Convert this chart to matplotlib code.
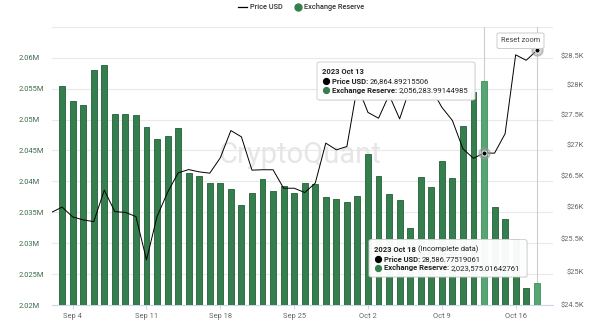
import matplotlib
matplotlib.use("Agg")
import matplotlib.pyplot as plt
import matplotlib.dates as mdates
import numpy as np
import pandas as pd
from matplotlib.lines import Line2D
from matplotlib.patches import FancyBboxPatch
from matplotlib.ticker import FixedLocator, NullLocator, NullFormatter

plt.rcParams['font.family'] = ['Roboto', 'DejaVu Sans']

# ---------------- data ----------------
reserve_dates = pd.date_range('2023-09-03', '2023-10-18')
reserve_m = [2.0554, 2.0530, 2.0524, 2.0580, 2.0588, 2.0509, 2.0509, 2.0508,
             2.0488, 2.0469, 2.0474, 2.0487, 2.0414, 2.0409, 2.0398, 2.0397,
             2.0388, 2.0362, 2.0381, 2.0404, 2.0385, 2.0392, 2.0381, 2.0398,
             2.0396, 2.0374, 2.0371, 2.0367, 2.0377, 2.0444, 2.0409, 2.0380,
             2.0370, 2.0325, 2.0407, 2.0391, 2.0433, 2.0405, 2.0489, 2.0544,
             2.05628, 2.0358, 2.0339, 2.0306, 2.0228, 2.02358]

price_dates = pd.date_range('2023-09-02', '2023-10-18')
price_usd = [25915, 25998, 25844, 25797, 25770, 26266, 25926, 25915, 25849,
             25180, 25849, 26231, 26543, 26596, 26559, 26538, 26787, 27232,
             27129, 26587, 26593, 26593, 26297, 26297, 26229, 26378, 27026,
             26916, 26970, 27982, 27533, 27437, 27826, 27426, 27950, 27970,
             27935, 27620, 27400, 26933, 26778, 26864.89, 26862, 27180, 28512,
             28417, 28586.78]

left_ticks = [2.02, 2.025, 2.03, 2.035, 2.04, 2.045, 2.05, 2.055, 2.06, 2.065]
left_labels = ['2.02M', '2.025M', '2.03M', '2.035M', '2.04M', '2.045M',
               '2.05M', '2.055M', '2.06M', '']
right_ticks = [24500, 25000, 25500, 26000, 26500, 27000, 27500, 28000, 28500]
right_labels = ['$24.5K', '$25K', '$25.5K', '$26K', '$26.5K', '$27K',
                '$27.5K', '$28K', '$28.5K']
x_tick_dates = pd.to_datetime(['2023-09-04', '2023-09-11', '2023-09-18',
                               '2023-09-25', '2023-10-02', '2023-10-09',
                               '2023-10-16'])
x_tick_labels = ['Sep 4', 'Sep 11', 'Sep 18', 'Sep 25', 'Oct 2', 'Oct 9', 'Oct 16']
highlight_dates = pd.to_datetime(['2023-10-13', '2023-10-18'])

# ---------------- figure ----------------
W, H = 600, 322
fig = plt.figure(figsize=(W / 100, H / 100), dpi=100)
fig.patch.set_facecolor('white')

def fx(x):
    return x / W

def fy(y):
    return 1 - y / H

L, R, T, B = 52, 553, 26.8, 305
ax = fig.add_axes([fx(L), fy(B), (R - L) / W, (B - T) / H])
ax2 = ax.twinx()

GREEN = '#347f4d'
GREEN_EDGE = '#225f38'
LIGHT_GREEN = '#55a673'

hl = set(highlight_dates)
fc = [LIGHT_GREEN if d in hl else GREEN for d in reserve_dates]
ec = ['#3f8f5c' if d in hl else GREEN_EDGE for d in reserve_dates]
ax.bar(reserve_dates, reserve_m, width=0.56, color=fc, edgecolor=ec,
       linewidth=0.6, zorder=3, bottom=0)

ax.set_ylim(2.02, 2.065)
ax.yaxis.set_major_locator(FixedLocator(left_ticks))
ax.set_yticklabels(left_labels)
ax.grid(axis='y', color='#e9e9e9', linewidth=0.8)
ax.set_axisbelow(True)
ax.tick_params(axis='y', length=0, pad=23.8, labelsize=5.4, labelcolor='#3d6b4c')
for lab in ax.get_yticklabels():
    lab.set_horizontalalignment('left')

x0 = pd.Timestamp('2023-09-02') + pd.Timedelta(hours=1)
x1 = pd.Timestamp('2023-10-19') + pd.Timedelta(hours=13)
ax.set_xlim(x0, x1)
ax.set_xticks(x_tick_dates)
ax.set_xticklabels(x_tick_labels)
ax.tick_params(axis='x', length=3, width=0.7, color='#ccd6eb', pad=2.5,
               labelsize=5.4, labelcolor='#666666')

for sp in ['top', 'left', 'right']:
    ax.spines[sp].set_visible(False)
    ax2.spines[sp].set_visible(False)
ax.spines['bottom'].set_color('#ccd6eb')
ax.spines['bottom'].set_linewidth(0.8)
ax2.spines['bottom'].set_visible(False)

# crosshair lines
for d in highlight_dates:
    ax.axvline(d, color='#cccccc', linewidth=0.8, zorder=1.5)

# watermark
ax.text((300 - L) / (R - L), (B - 155) / (B - T), 'CryptoQuant',
        transform=ax.transAxes, ha='center', va='center', fontsize=21,
        color='#e6e6e6', zorder=1)

# price line (log right axis)
ax2.plot(price_dates, price_usd, color='black', linewidth=0.7, zorder=4)
ax2.set_yscale('log')
ax2.set_ylim(24500, 29000)
ax2.yaxis.set_major_locator(FixedLocator(right_ticks))
ax2.yaxis.set_minor_locator(NullLocator())
ax2.yaxis.set_minor_formatter(NullFormatter())
ax2.set_yticklabels(right_labels)
ax2.tick_params(axis='y', length=0, pad=22.3, labelsize=5.4, labelcolor='#666666')
for lab in ax2.get_yticklabels():
    lab.set_horizontalalignment('right')
ax2.set_xlim(x0, x1)

# hover markers
pd_list = list(price_dates)
for d in highlight_dates:
    i = pd_list.index(d)
    ax2.plot([d], [price_usd[i]], marker='o', ms=8, color='#999999', alpha=0.5,
             linestyle='none', zorder=5, clip_on=False)
    ax2.plot([d], [price_usd[i]], marker='o', ms=3.6, color='black',
             markeredgecolor='white', markeredgewidth=0.6, linestyle='none',
             zorder=6, clip_on=False)

# ---------------- legend ----------------
fig.add_artist(Line2D([fx(237.7), fx(246.7)], [fy(7.3), fy(7.3)], color='black',
                      linewidth=0.9, transform=fig.transFigure))
fig.text(fx(250), fy(7.3), 'Price USD', fontsize=5.3, fontweight='medium',
         color='#333333', va='center', ha='left')
fig.add_artist(Line2D([fx(297.7)], [fy(7.3)], marker='o', ms=5, color=GREEN,
                      linestyle='none', transform=fig.transFigure))
fig.text(fx(304), fy(7.3), 'Exchange Reserve', fontsize=5.3, fontweight='medium',
         color='#333333', va='center', ha='left')

# ---------------- reset zoom button ----------------
btn = FancyBboxPatch((fx(497), fy(48.5)), fx(544) - fx(497), fy(33) - fy(48.5),
                     boxstyle='round,pad=0,rounding_size=0.004',
                     transform=fig.transFigure, facecolor='white',
                     edgecolor='#cccccc', linewidth=0.7, zorder=8)
fig.add_artist(btn)
fig.text(fx(520.5), fy(41), 'Reset zoom', fontsize=5.3, color='#444444',
         ha='center', va='center', zorder=9)

# ---------------- tooltips ----------------
renderer = fig.canvas.get_renderer()
FS = 5.5

def seq_text(x, y, parts):
    cur = x
    for s, w in parts:
        t = fig.text(fx(cur), fy(y), s, fontsize=FS, fontweight=w,
                     va='center', ha='left', color='#222222', zorder=12)
        bb = t.get_window_extent(renderer=renderer)
        cur = bb.x1 + 1.5

def tooltip(x0p, y0p, x1p, y1p, title_parts, rows):
    sh = FancyBboxPatch((fx(x0p + 1), fy(y1p + 1)), fx(x1p) - fx(x0p),
                        fy(y0p) - fy(y1p), boxstyle='round,pad=0,rounding_size=0.005',
                        transform=fig.transFigure, facecolor='#000000', alpha=0.06,
                        edgecolor='none', zorder=10)
    fig.add_artist(sh)
    box = FancyBboxPatch((fx(x0p), fy(y1p)), fx(x1p) - fx(x0p), fy(y0p) - fy(y1p),
                         boxstyle='round,pad=0,rounding_size=0.005',
                         transform=fig.transFigure, facecolor='white', alpha=0.96,
                         edgecolor='#d0d0d0', linewidth=0.7, zorder=11)
    fig.add_artist(box)
    tx = x0p + 5.5
    seq_text(tx, y0p + 9.5, title_parts)
    for k, (color, label, value) in enumerate(rows):
        yy = y0p + 19.5 + k * 8.7
        fig.add_artist(Line2D([fx(tx + 3.5)], [fy(yy)], marker='o', ms=4.2,
                              color=color, linestyle='none',
                              transform=fig.transFigure, zorder=12))
        seq_text(tx + 9.5, yy, [(label, 'bold'), (value, 'normal')])

tooltip(317, 62, 475, 100, [('2023 Oct 13', 'bold')],
        [('black', 'Price USD:', '26,864.89215506'),
         (GREEN, 'Exchange Reserve:', '2,056,283.99144985')])
tooltip(369, 239.5, 527, 277, [('2023 Oct 18', 'bold'), ('(Incomplete data)', 'normal')],
        [('black', 'Price USD:', '28,586.77519061'),
         (GREEN, 'Exchange Reserve:', '2,023,575.01642761')])

fig.savefig('out.png', dpi=100, facecolor='white')
